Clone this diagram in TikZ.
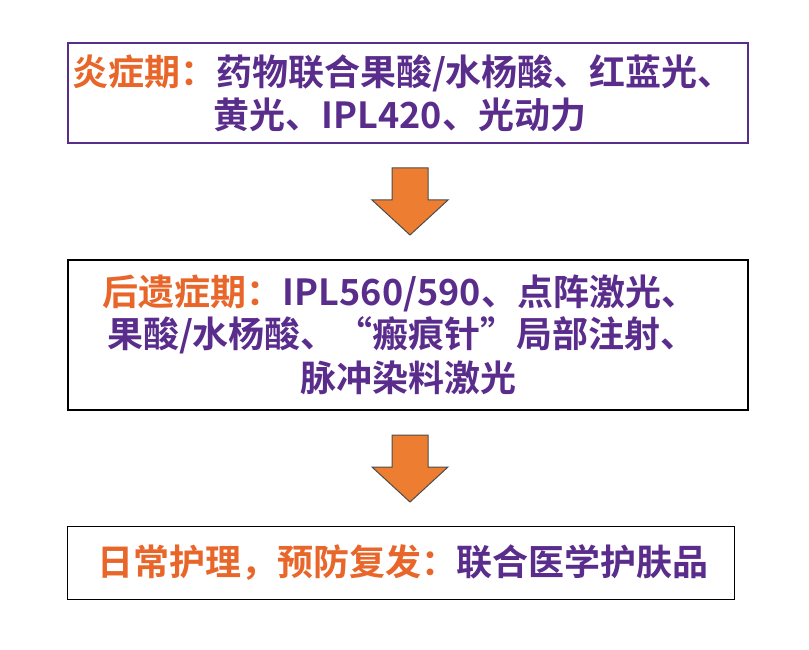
\documentclass[tikz,border=0pt]{standalone}
\usepackage{fontspec}
\setmainfont{Noto Sans CJK SC Bold}
\definecolor{org}{HTML}{E8662A}
\definecolor{pur}{HTML}{5A2D8C}
\definecolor{arr}{HTML}{ED7D31}
\begin{document}
\begin{tikzpicture}[x=1pt,y=-1pt,
  box/.style={draw,line width=1.3pt},
  txt/.style={font=\fontsize{36}{40}\selectfont,text=pur,anchor=center},
  barrow/.style={fill=arr,draw=black!70,line width=1pt}]
\useasboundingbox (0,0) rectangle (809,650);
\node[box,draw=pur,minimum width=680,minimum height=100] (b1) at (408,93) {};
\node[txt] (t1a) at (403,73) {\textcolor{org}{炎症期：}药物联合果酸/水杨酸、红蓝光、};
\node[txt] (t1b) at (400,115) {黄光、IPL420、光动力};
\node[box,minimum width=680,minimum height=150] (b2) at (408,335) {};
\node[txt] (t2a) at (400,293) {\textcolor{org}{后遗症期：}IPL560/590、点阵激光、};
\node[txt] (t2b) at (402,335) {果酸/水杨酸、“瘢痕针”局部注射、};
\node[txt] (t2c) at (408,378) {脉冲染料激光};
\node[box,minimum width=667,minimum height=73] (b3) at (401,563) {};
\node[txt] (t3) at (403,563) {\textcolor{org}{日常护理，预防复发：}联合医学护肤品};
\draw[barrow] (392,168) -- (428,168) -- (428,200) -- (448,200) -- (410,235) -- (372,200) -- (392,200) -- cycle;
\draw[barrow] (392,435) -- (428,435) -- (428,467) -- (448,467) -- (410,502) -- (372,467) -- (392,467) -- cycle;
\end{tikzpicture}
\end{document}
